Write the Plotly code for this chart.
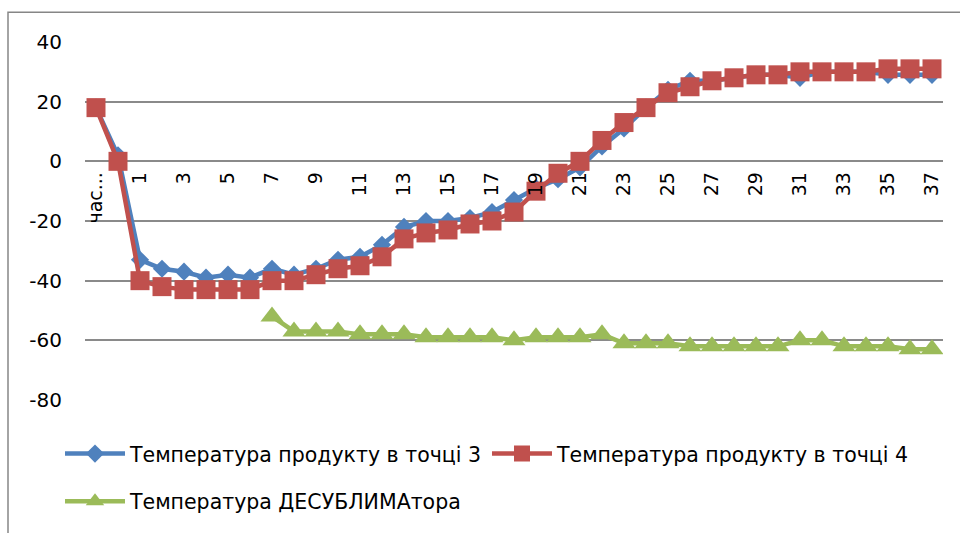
import plotly.graph_objects as go

# Time axis categories (first one is the truncated header label)
categories = ["час...", "0", "1", "2", "3", "4", "5", "6", "7", "8", "9", "10",
              "11", "12", "13", "14", "15", "16", "17", "18", "19", "20", "21",
              "22", "23", "24", "25", "26", "27", "28", "29", "30", "31", "32",
              "33", "34", "35", "36", "37"]

# Product temperature at point 3, °C
t_point3 = [18, 2, -33, -36, -37, -39, -38, -39, -36, -38, -36, -33, -32, -28,
            -22, -20, -20, -19, -17, -13, -9, -6, -2, 5, 11, 18, 24, 27, 27, 28,
            29, 29, 28, 30, 30, 30, 29, 29, 29]

# Product temperature at point 4, °C
t_point4 = [18, 0, -40, -42, -43, -43, -43, -43, -40, -40, -38, -36, -35, -32,
            -26, -24, -23, -21, -20, -17, -10, -4, 0, 7, 13, 18, 23, 25, 27, 28,
            29, 29, 30, 30, 30, 30, 31, 31, 31]

# Desublimator temperature, °C (recorded from the 8th reading onward)
t_desub = [None, None, None, None, None, None, None, None,
           -52, -57, -57, -57, -58, -58, -58, -59, -59, -59, -59, -60, -59, -59,
           -59, -58, -61, -61, -61, -62, -62, -62, -62, -62, -60, -60, -62, -62,
           -62, -63, -63]

y_ticks = [40, 20, 0, -20, -40, -60, -80]
y_tick_text = ["40", "20", "0", "-20", "-40", "-60", "-80"]

BLUE = "#4F81BD"
RED = "#C0504D"
GREEN = "#9BBB59"
GRID = "#8A8A8A"
FONT = "DejaVu Sans"

W, H = 960, 533
M_L, M_R, M_T, M_B = 85, 17, 42, 131
PW = W - M_L - M_R
PH = H - M_T - M_B


def px_x(px):
    return (px - M_L) / PW


def px_y(py):
    return (H - M_B - py) / PH


fig = go.Figure()

fig.add_trace(go.Scatter(
    x=categories, y=t_point3, name="Температура продукту в точці 3",
    mode="lines+markers",
    line=dict(color=BLUE, width=4.5),
    marker=dict(symbol="diamond", size=14, color=BLUE),
    legend="legend",
))
fig.add_trace(go.Scatter(
    x=categories, y=t_point4, name="Температура продукту в точці 4",
    mode="lines+markers",
    line=dict(color=RED, width=4.5),
    marker=dict(symbol="square", size=19, color=RED),
    legend="legend",
))
fig.add_trace(go.Scatter(
    x=categories, y=t_desub, name="Температура ДЕСУБЛИМАтора",
    mode="lines+markers",
    line=dict(color=GREEN, width=4.5),
    marker=dict(symbol="triangle-up", size=20, color=GREEN),
    legend="legend2",
))

# Outer chart frame
fig.add_shape(type="rect", xref="paper", yref="paper",
              x0=px_x(8), x1=px_x(975), y0=px_y(560), y1=px_y(12),
              line=dict(color="#868686", width=1.5), layer="below")

fig.update_layout(
    width=W, height=H,
    margin=dict(l=M_L, r=M_R, t=M_T, b=M_B),
    paper_bgcolor="white", plot_bgcolor="white",
    font=dict(family=FONT, size=20, color="black"),
    showlegend=True,
    xaxis=dict(
        type="category", categoryorder="array", categoryarray=categories,
        range=[-0.5, len(categories) - 0.5],
        dtick=2, tickangle=-90,
        anchor="free", position=px_y(162),
        showgrid=False, showline=False, zeroline=False,
        ticks="", ticklabelstandoff=6,
        tickfont=dict(family=FONT, size=19),
    ),
    yaxis=dict(
        range=[-80, 40], tickvals=y_ticks, ticktext=y_tick_text,
        showgrid=True, gridcolor=GRID, gridwidth=1.6,
        zeroline=False, showline=False, ticks="",
        ticklabelstandoff=22,
        tickfont=dict(family=FONT, size=20),
    ),
    legend=dict(
        orientation="h", x=px_x(60), xanchor="left",
        y=px_y(456), yanchor="middle",
        itemwidth=60, font=dict(family=FONT, size=20.5),
        bgcolor="rgba(0,0,0,0)", traceorder="normal",
    ),
    legend2=dict(
        orientation="h", x=px_x(60), xanchor="left",
        y=px_y(504), yanchor="middle",
        itemwidth=60, font=dict(family=FONT, size=20.5),
        bgcolor="rgba(0,0,0,0)",
    ),
)

fig.write_html("out.html")
